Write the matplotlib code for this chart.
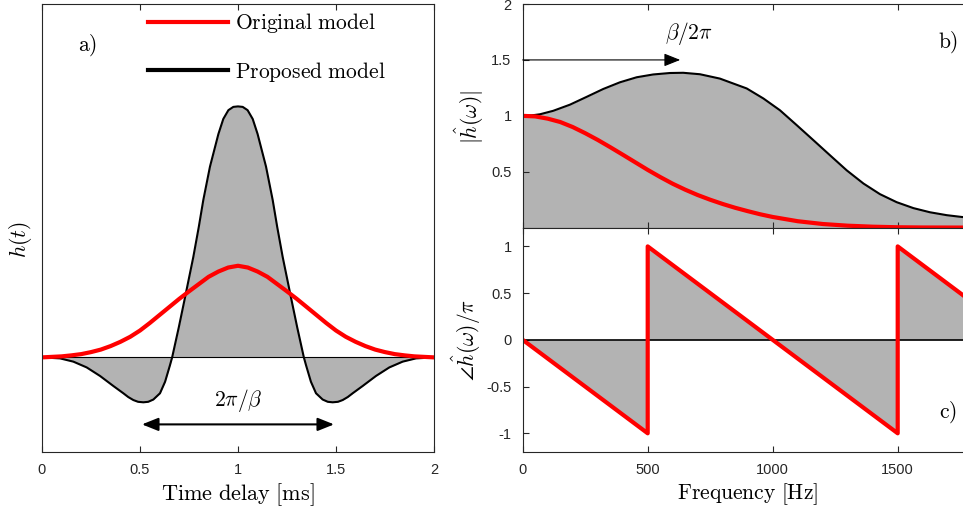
import numpy as np
import matplotlib.pyplot as plt
from matplotlib.lines import Line2D

plt.rcParams['mathtext.fontset'] = 'cm'
plt.rcParams['font.family'] = 'Liberation Sans'

# --- impulse responses (time delay in ms) ---
t_prop = [0.0, 0.092, 0.16, 0.228, 0.296, 0.364, 0.415, 0.44, 0.466, 0.49, 0.517,
          0.542, 0.568, 0.602, 0.628, 0.653, 0.664, 0.698, 0.73, 0.772, 0.80, 0.823,
          0.857, 0.90, 0.925, 0.951, 0.976, 1.0,
          1.024, 1.049, 1.075, 1.10, 1.143, 1.177, 1.20, 1.228, 1.27, 1.302, 1.336,
          1.347, 1.372, 1.398, 1.432, 1.458, 1.483, 1.51, 1.534, 1.56, 1.585, 1.636,
          1.704, 1.772, 1.84, 1.908, 2.0]
h_prop = [0.0, -0.004, -0.017, -0.04, -0.074, -0.114, -0.143, -0.158, -0.17, -0.177,
          -0.179, -0.177, -0.168, -0.143, -0.097, -0.031, 0.0, 0.12, 0.24, 0.40, 0.52,
          0.627, 0.76, 0.89, 0.95, 0.985, 0.998, 1.0,
          0.998, 0.985, 0.95, 0.89, 0.76, 0.627, 0.52, 0.40, 0.24, 0.12, 0.0,
          -0.031, -0.097, -0.143, -0.168, -0.177, -0.179, -0.177, -0.17, -0.158,
          -0.143, -0.114, -0.074, -0.04, -0.017, -0.004, 0.0]

t_orig = [0.0, 0.05, 0.10, 0.15, 0.20, 0.25, 0.30, 0.35, 0.40, 0.45, 0.50, 0.55, 0.60,
          0.65, 0.70, 0.75, 0.80, 0.85, 0.90, 0.95, 1.0, 1.05, 1.10, 1.15, 1.20, 1.25,
          1.30, 1.35, 1.40, 1.45, 1.50, 1.55, 1.60, 1.65, 1.70, 1.75, 1.80, 1.85, 1.90,
          1.95, 2.0]
h_orig = [0.0, 0.002, 0.004, 0.008, 0.013, 0.021, 0.031, 0.045, 0.062, 0.082, 0.107,
          0.137, 0.169, 0.201, 0.233, 0.263, 0.292, 0.321, 0.342, 0.358, 0.365,
          0.358, 0.342, 0.321, 0.292, 0.263, 0.233, 0.201, 0.169, 0.137, 0.107, 0.082,
          0.062, 0.045, 0.031, 0.021, 0.013, 0.008, 0.004, 0.002, 0.0]

# --- magnitude responses (Hz) ---
f_prop = [0, 35, 69, 122, 189, 256, 322, 389, 456, 522, 589, 642, 709, 789, 829, 896,
          963, 1029, 1096, 1163, 1229, 1296, 1363, 1429, 1496, 1563, 1629, 1696, 1756,
          1850, 2000]
mag_prop = [1.0, 1.004, 1.014, 1.045, 1.10, 1.17, 1.24, 1.30, 1.345, 1.37, 1.383,
            1.385, 1.372, 1.333, 1.30, 1.245, 1.155, 1.05, 0.917, 0.782, 0.648, 0.513,
            0.395, 0.30, 0.228, 0.175, 0.138, 0.112, 0.096, 0.078, 0.05]

f_orig = [0, 50, 100, 150, 200, 250, 300, 350, 400, 450, 500, 550, 600, 650, 700, 750,
          800, 850, 900, 950, 1000, 1100, 1200, 1300, 1400, 1500, 1600, 1800, 2000]
mag_orig = [1.0, 0.995, 0.975, 0.945, 0.90, 0.845, 0.785, 0.72, 0.653, 0.585, 0.517,
            0.453, 0.393, 0.34, 0.292, 0.25, 0.212, 0.178, 0.148, 0.12, 0.096, 0.058,
            0.033, 0.018, 0.009, 0.004, 0.002, 0.001, 0.0]

# --- phase (normalised by pi) ---
f_ph = [0, 500, 500, 1500, 1500, 2000]
ph = [0, -1, 1, -1, 1, 0]

gray = '#b3b3b3'
red = '#ff0000'
spine_c = '#262626'
fs = 15.5

fig = plt.figure(figsize=(9.63, 5.13), dpi=100)
W, H = 963, 513

def box(x0, y0, x1, y1):
    return [x0 / W, 1 - y1 / H, (x1 - x0) / W, (y1 - y0) / H]

ax_a = fig.add_axes(box(42, 4, 434, 452))
ax_b = fig.add_axes(box(522.7, 4, 972.7, 227.7))
ax_c = fig.add_axes(box(522.7, 227.7, 972.7, 452))

for ax in (ax_a, ax_b, ax_c):
    for s in ax.spines.values():
        s.set_color(spine_c)
        s.set_linewidth(0.8)
    ax.tick_params(direction='in', length=4, width=0.8, color=spine_c,
                   labelsize=10.5, labelcolor='#262626', top=True, right=True, pad=8)

# a) impulse response
ax_a.fill_between(t_prop, h_prop, 0, color=gray, lw=0)
ax_a.plot(t_prop, h_prop, color='k', lw=1.5)
ax_a.axhline(0, color='k', lw=0.8)
ax_a.plot(t_orig, h_orig, color=red, lw=3)
ax_a.set_xlim(0, 2)
ax_a.set_ylim(-0.377, 1.408)
ax_a.set_xticks([0, 0.5, 1, 1.5, 2])
ax_a.set_xticklabels(['0', '0.5', '1', '1.5', '2'])
ax_a.set_yticks([])
ax_a.set_xlabel(r'$\mathrm{Time\ delay\ [ms]}$', fontsize=16, labelpad=3)
ax_a.annotate('', xy=(0.51, -0.267), xytext=(1.49, -0.267),
              arrowprops=dict(arrowstyle='<|-|>,head_length=0.55,head_width=0.22',
                              mutation_scale=18, color='k', lw=1.5,
                              shrinkA=0, shrinkB=0))
ax_a.text(1.0, -0.17, r'$2\pi/\beta$', fontsize=fs, ha='center', va='center')
ax_a.text(0.23, 1.245, r'$\mathrm{a)}$', fontsize=fs, ha='center', va='center')

handles = [Line2D([], [], color=red, lw=3), Line2D([], [], color='k', lw=3)]
ax_a.legend(handles, [r'$\mathrm{Original\ model}$', r'$\mathrm{Proposed\ model}$'],
            loc='upper left', bbox_to_anchor=((148 - 42) / 392, 0.984), frameon=False,
            fontsize=fs, handlelength=3.7, handletextpad=0.33, labelspacing=1.15,
            borderaxespad=0.0, borderpad=0.0)
fig.text(20 / W, 1 - 240 / H, r'$h(t)$', fontsize=fs, rotation=90,
         ha='center', va='center')

# b) magnitude
ax_b.fill_between(f_prop, mag_prop, 0, color=gray, lw=0)
ax_b.plot(f_prop, mag_prop, color='k', lw=1.5)
ax_b.plot(f_orig, mag_orig, color=red, lw=3)
ax_b.set_xlim(0, 1800)
ax_b.set_ylim(0, 2)
ax_b.set_yticks([0.5, 1, 1.5, 2])
ax_b.set_yticklabels(['0.5', '1', '1.5', '2'])
ax_b.set_xticks([0, 500, 1000, 1500])
ax_b.set_xticklabels([])
ax_b.annotate('', xy=(630, 1.5), xytext=(0, 1.5),
              arrowprops=dict(arrowstyle='-|>,head_length=0.55,head_width=0.22',
                              mutation_scale=18, color='k', lw=0.8,
                              shrinkA=0, shrinkB=0))
ax_b.text(665, 1.74, r'$\beta/2\pi$', fontsize=fs, ha='center', va='center')
ax_b.text((948 - 522.7) * 4, 1.66, r'$\mathrm{b)}$', fontsize=fs, ha='center', va='center')
fig.text(469 / W, 1 - 117 / H, r'$|\hat{h}(\omega)|$', fontsize=fs, rotation=90,
         ha='center', va='center')

# c) phase
ax_c.fill_between(f_ph, ph, 0, color=gray, lw=0)
ax_c.axhline(0, color='k', lw=1.2)
ax_c.plot(f_ph, ph, color=red, lw=3)
ax_c.set_xlim(0, 1800)
ax_c.set_ylim(-1.2, 1.2)
ax_c.set_yticks([-1, -0.5, 0, 0.5, 1])
ax_c.set_yticklabels(['-1', '-0.5', '0', '0.5', '1'])
ax_c.set_xticks([0, 500, 1000, 1500])
ax_c.set_xticklabels(['0', '500', '1000', '1500'])
ax_c.set_xlabel(r'$\mathrm{Frequency\ [Hz]}$', fontsize=fs, labelpad=3)
ax_c.text((948 - 522.7) * 4, -0.77, r'$\mathrm{c)}$', fontsize=fs, ha='center', va='center')
fig.text(466 / W, 1 - 340 / H, r'$\angle\hat{h}(\omega)/\pi$', fontsize=fs, rotation=90,
         ha='center', va='center')

fig.savefig('out.png', dpi=100)
